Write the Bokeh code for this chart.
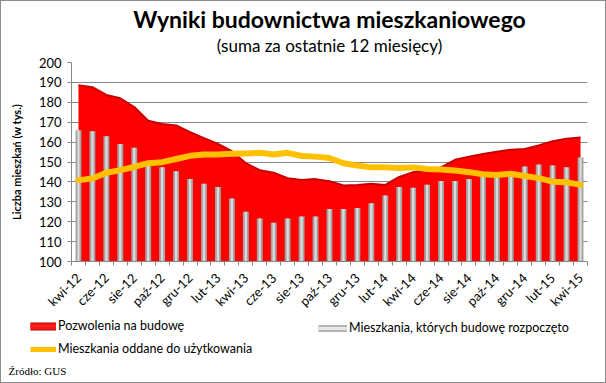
from math import pi
from bokeh.plotting import figure
from bokeh.layouts import column
from bokeh.models import Range1d, FixedTicker, Title, Legend, LegendItem, Label, ColumnDataSource
from bokeh.embed import file_html
from bokeh.resources import INLINE

months = ["kwi-12", "maj-12", "cze-12", "lip-12", "sie-12", "wrz-12", "paź-12", "lis-12", "gru-12",
          "sty-13", "lut-13", "mar-13", "kwi-13", "maj-13", "cze-13", "lip-13", "sie-13", "wrz-13",
          "paź-13", "lis-13", "gru-13", "sty-14", "lut-14", "mar-14", "kwi-14", "maj-14", "cze-14",
          "lip-14", "sie-14", "wrz-14", "paź-14", "lis-14", "gru-14", "sty-15", "lut-15", "mar-15",
          "kwi-15"]

pozwolenia = [188.6, 187.6, 183.7, 182.0, 177.6, 170.7, 169.1, 168.4, 165.0, 162.0, 159.1, 155.4,
              149.4, 145.9, 144.6, 141.9, 140.9, 141.4, 140.3, 138.2, 138.5, 139.1, 138.5, 142.5,
              144.9, 145.9, 147.3, 151.1, 152.7, 154.0, 155.1, 156.2, 156.5, 158.3, 160.4, 161.7,
              162.3]

rozpoczete = [165.9, 165.4, 163.0, 159.0, 157.2, 148.3, 147.3, 145.4, 141.4, 139.1, 137.5, 131.7,
              125.0, 121.6, 119.5, 121.6, 122.6, 122.6, 126.4, 126.4, 126.9, 129.3, 133.2, 137.5,
              137.0, 138.6, 140.4, 140.4, 141.4, 142.6, 143.0, 143.5, 147.8, 148.8, 148.3, 147.3,
              152.2]

oddane = [140.9, 141.7, 144.6, 145.9, 147.5, 149.4, 149.9, 151.5, 153.1, 153.8, 153.8, 154.1,
          154.3, 154.6, 153.8, 154.6, 153.0, 152.7, 152.0, 149.4, 148.2, 147.3, 147.3, 147.0,
          147.3, 146.5, 146.2, 145.7, 144.9, 143.8, 143.5, 144.1, 143.0, 141.9, 140.1, 139.8,
          138.5]

y_ticks = [100, 110, 120, 130, 140, 150, 160, 170, 180, 190, 200]

series_names = ["Pozwolenia na budowę", "Mieszkania, których budowę rozpoczęto",
                "Mieszkania oddane do użytkowania"]
title_text = "Wyniki budownictwa mieszkaniowego"
subtitle_text = "(suma za ostatnie 12 miesięcy)"
y_title = "Liczba mieszkań (w tys.)"
source_text = "Źródło: GUS"

FONT = "Lato"
GRID = "#868686"
W = 604
H_TOP = 316
H_BOT = 65

x = list(range(len(months)))
src = ColumnDataSource(dict(x=x, poz=pozwolenia, roz=rozpoczete, odd=oddane))

p = figure(width=W, height=H_TOP, x_range=Range1d(-0.5, len(months) - 0.5),
           y_range=Range1d(100, 200), output_backend="svg", toolbar_location=None,
           min_border_left=70, min_border_right=18, min_border_top=61, min_border_bottom=48)
p.frame_align = False
p.outline_line_color = None
p.background_fill_color = "white"
p.border_fill_color = "white"

# red area
p.varea(x="x", y1=100, y2="poz", source=src, fill_color="#FF0000")
p.line(x="x", y="poz", source=src, line_color="#C80000", line_width=2)

# gray bars
p.vbar(x="x", top="roz", bottom=100, width=0.42, source=src, fill_color="#A3A3A3", line_color=None)
p.vbar(x="x", top="roz", bottom=100, width=0.16, source=src, fill_color="#DADADA", line_color=None)

# yellow line
p.line(x="x", y="odd", source=src, line_color="#FFC000", line_width=6, line_join="round",
       line_cap="round")

# axes
p.xgrid.visible = False
p.ygrid.ticker = FixedTicker(ticks=y_ticks)
p.ygrid.grid_line_color = GRID

p.xaxis.ticker = FixedTicker(ticks=list(range(0, len(months), 2)),
                             minor_ticks=[i - 0.5 for i in range(len(months) + 1)])
p.xaxis.major_label_overrides = {i: months[i] for i in range(0, len(months), 2)}
p.xaxis.major_label_orientation = pi / 4
p.xaxis.major_tick_line_color = None
p.xaxis.major_tick_out = 0
p.xaxis.minor_tick_out = 4
p.xaxis.minor_tick_in = 0
p.xaxis.minor_tick_line_color = GRID
p.xaxis.axis_line_color = GRID
p.xaxis.major_label_standoff = 10
p.xaxis.major_label_text_font = FONT
p.xaxis.major_label_text_font_size = "13px"
p.xaxis.major_label_text_color = "black"

p.yaxis.ticker = FixedTicker(ticks=y_ticks)
p.yaxis.major_tick_out = 4
p.yaxis.major_tick_in = 0
p.yaxis.major_tick_line_color = GRID
p.yaxis.minor_tick_line_color = None
p.yaxis.axis_line_color = GRID
p.yaxis.major_label_standoff = 6
p.yaxis.major_label_text_font = FONT
p.yaxis.major_label_text_font_size = "13px"
p.yaxis.major_label_text_color = "black"
p.yaxis.axis_label = y_title
p.yaxis.axis_label_text_font = FONT
p.yaxis.axis_label_text_font_style = "bold"
p.yaxis.axis_label_text_font_size = "11px"
p.yaxis.axis_label_text_color = "black"
p.yaxis.axis_label_standoff = 13

# titles (above panel: first added is nearest the plot)
p.add_layout(Title(text=subtitle_text, align="center", text_font=FONT, text_font_size="17px",
                   text_font_style="normal", text_color="black", standoff=13, offset=-3), "above")
p.add_layout(Title(text=title_text, align="center", text_font=FONT, text_font_size="23px",
                   text_font_style="bold", text_color="black", standoff=-13, offset=-4), "above")

# ---- legend strip (second figure, pixel-like coordinates) ----
q = figure(width=W, height=H_BOT, x_range=Range1d(0, W), y_range=Range1d(H_BOT, 0),
           output_backend="svg", toolbar_location=None,
           min_border_left=0, min_border_right=0, min_border_top=0, min_border_bottom=0)
q.frame_align = False
q.axis.visible = False
q.grid.visible = False
q.outline_line_color = None
q.background_fill_color = "white"
q.border_fill_color = "white"

off_x = [-50, -40]
off_y = [-50, -50]
lr1 = q.line(x=off_x, y=off_y, line_color="#B00000", line_width=8)
lr2 = q.line(x=off_x, y=off_y, line_color="#FF1A1A", line_width=6)
lg1 = q.line(x=off_x, y=off_y, line_color="#B4B4B4", line_width=7)
lg2 = q.line(x=off_x, y=off_y, line_color="#E6E6E6", line_width=3)
ly = q.line(x=off_x, y=off_y, line_color="#FFC000", line_width=5)

leg_common = dict(glyph_height=14, label_height=14, label_standoff=2, spacing=8,
                  padding=0, margin=0, border_line_color=None, background_fill_alpha=0,
                  label_text_font=FONT, label_text_font_size="12.5px", label_text_color="black",
                  orientation="vertical")
leg1 = Legend(items=[LegendItem(label=series_names[0], renderers=[lr1, lr2]),
                     LegendItem(label=series_names[2], renderers=[ly])],
              location=(29, 26), glyph_width=26, **leg_common)
leg2 = Legend(items=[LegendItem(label=series_names[1], renderers=[lg1, lg2])],
              location=(317, 47), glyph_width=29, **leg_common)
q.add_layout(leg1)
q.add_layout(leg2)
q.add_layout(Label(x=7, y=53, text=source_text, text_align="left", text_baseline="middle",
                   text_font="Liberation Serif", text_font_size="11px", text_color="black"))

layout = column(p, q, spacing=0)
layout.styles = {"border": "1px solid #8c8c8c"}
open("out.html", "w").write(file_html(layout, INLINE))
